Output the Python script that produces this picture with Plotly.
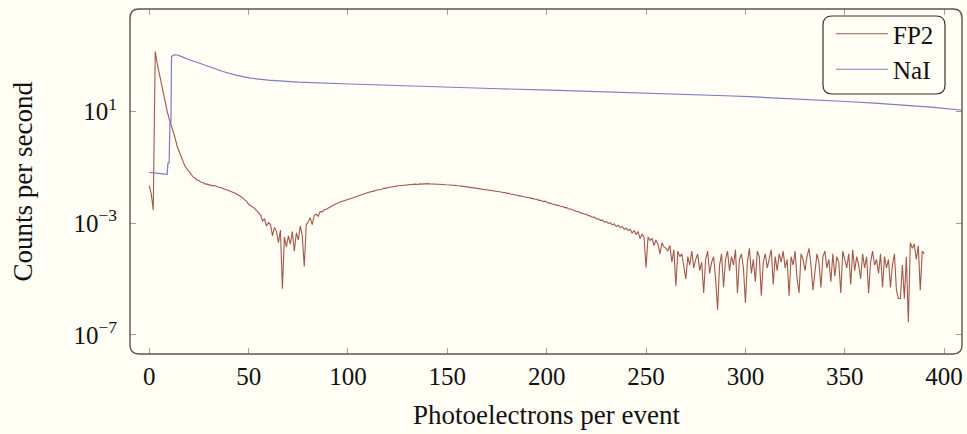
import plotly.graph_objects as go

# ---------------- data ----------------
# FP2 histogram: bin centres (photoelectrons) and log10(counts per second)
fp2_bins = list(range(0, 391))
fp2_log10 = [
    -1.65, -1.95, -2.52, 3.15, 2.72, 2.38, 1.98, 1.62, 1.31, 1.02,
    0.74, 0.52, 0.24, 0.06, -0.24, -0.43, -0.66, -0.79, -0.96, -1.06,
    -1.18, -1.25, -1.34, -1.38, -1.45, -1.47, -1.53, -1.54, -1.59, -1.60,
    -1.62, -1.63, -1.66, -1.65, -1.69, -1.71, -1.72, -1.76, -1.78, -1.80,
    -1.84, -1.85, -1.89, -1.92, -1.95, -2.00, -2.04, -2.10, -2.14, -2.22,
    -2.32, -2.36, -2.40, -2.47, -2.55, -2.62, -2.70, -2.92, -2.85, -3.10,
    -2.98, -3.05, -3.45, -3.15, -3.30, -3.70, -3.25, -5.35, -3.50, -3.85,
    -3.45, -3.75, -3.30, -4.00, -3.35, -3.60, -3.10, -3.45, -4.55, -3.05,
    -2.95, -2.80, -3.05, -2.72, -2.68, -2.75, -2.58, -2.60, -2.52, -2.50,
    -2.45, -2.42, -2.38, -2.34, -2.32, -2.28, -2.24, -2.22, -2.20, -2.17,
    -2.15, -2.13, -2.10, -2.08, -2.05, -2.03, -2.00, -1.98, -1.95, -1.93,
    -1.90, -1.89, -1.86, -1.85, -1.82, -1.81, -1.79, -1.78, -1.75, -1.75,
    -1.72, -1.72, -1.70, -1.69, -1.67, -1.67, -1.65, -1.65, -1.64, -1.63,
    -1.63, -1.62, -1.61, -1.61, -1.60, -1.61, -1.59, -1.60, -1.59, -1.59,
    -1.58, -1.59, -1.59, -1.60, -1.59, -1.61, -1.60, -1.61, -1.61, -1.62,
    -1.62, -1.63, -1.63, -1.65, -1.64, -1.66, -1.66, -1.68, -1.68, -1.69,
    -1.70, -1.71, -1.71, -1.73, -1.73, -1.75, -1.75, -1.77, -1.77, -1.79,
    -1.79, -1.81, -1.82, -1.83, -1.85, -1.85, -1.87, -1.88, -1.90, -1.90,
    -1.93, -1.93, -1.96, -1.96, -1.99, -1.99, -2.02, -2.02, -2.05, -2.05,
    -2.08, -2.08, -2.11, -2.11, -2.14, -2.14, -2.18, -2.18, -2.22, -2.21,
    -2.24, -2.28, -2.28, -2.32, -2.32, -2.36, -2.36, -2.40, -2.40, -2.44,
    -2.44, -2.49, -2.49, -2.53, -2.54, -2.58, -2.58, -2.63, -2.64, -2.68,
    -2.68, -2.73, -2.74, -2.79, -2.78, -2.85, -2.84, -2.90, -2.89, -2.96,
    -2.94, -3.01, -2.98, -3.06, -3.03, -3.12, -3.07, -3.16, -3.12, -3.22,
    -3.18, -3.26, -3.22, -3.35, -3.27, -3.40, -3.30, -3.55, -3.40, -3.50,
    -4.60, -3.50, -3.62, -3.55, -3.80, -3.60, -3.75, -4.10, -3.70, -3.85,
    -3.90, -4.00, -3.80, -4.40, -3.95, -5.25, -4.00, -4.20, -4.10, -4.50,
    -5.00, -4.20, -4.50, -4.00, -4.60, -4.30, -4.10, -4.70, -4.40, -5.50,
    -4.30, -4.00, -4.80, -4.40, -4.20, -5.00, -6.10, -4.50, -4.10, -5.30,
    -4.30, -4.00, -4.70, -4.20, -4.50, -3.95, -5.50, -4.30, -4.10, -4.60,
    -5.85, -4.40, -3.90, -4.80, -4.30, -5.10, -4.00, -4.20, -5.60, -4.40,
    -4.10, -4.60, -4.30, -3.95, -5.20, -4.20, -4.70, -4.10, -4.40, -4.00,
    -4.60, -4.30, -5.60, -4.20, -4.50, -4.00, -5.00, -5.50, -4.10, -4.30,
    -4.70, -4.20, -3.90, -4.50, -5.40, -4.80, -4.10, -4.40, -5.30, -4.20,
    -4.00, -4.60, -4.30, -5.10, -4.10, -4.90, -4.20, -4.40, -5.50, -4.00,
    -4.30, -4.60, -4.10, -5.20, -3.95, -4.70, -4.20, -4.50, -5.00, -4.10,
    -4.60, -4.20, -5.50, -4.40, -4.00, -4.50, -4.30, -4.80, -4.10, -5.30,
    -4.20, -4.60, -4.30, -5.30, -4.50, -4.10, -5.40, -5.70, -5.70, -4.50,
    -5.70, -4.20, -6.55, -3.70, -3.90, -3.75, -4.30, -3.80, -5.40, -4.00,
    -4.10,
]

# NaI spectrum: photoelectrons and log10(counts per second)
nai_bins = [0, 1, 2, 3, 4, 5, 6, 7, 8, 9, 9.4, 10, 10.4, 10.9, 11.2, 12, 13, 14,
            16, 18, 20, 24, 28, 32, 37, 44, 51, 60, 75, 101, 125, 151, 176,
            202, 227, 252, 277, 290, 302, 315, 328, 340, 353, 365, 378, 395, 409]
nai_log10 = [-1.18, -1.19, -1.19, -1.20, -1.21, -1.21, -1.22, -1.23, -1.24, -1.25,
             -0.84, -0.84, 0.60, 0.60, 2.97, 3.02, 3.04, 3.03,
             2.98, 2.92, 2.86, 2.77, 2.66, 2.56, 2.44, 2.30, 2.20, 2.13, 2.06,
             1.99, 1.93, 1.87, 1.82, 1.77, 1.72, 1.665, 1.605, 1.57, 1.535, 1.495,
             1.45, 1.405, 1.355, 1.305, 1.245, 1.15, 1.05]

series_names = ["FP2", "NaI"]
x_tick_values = [0, 50, 100, 150, 200, 250, 300, 350, 400]
y_tick_values = [1e-7, 1e-3, 1e1]
y_tick_labels = ["10<sup>−7</sup>", "10<sup>−3</sup>", "10<sup>1</sup>"]
x_title = "Photoelectrons per event"
y_title = "Counts per second"

# ---------------- style ----------------
BG = "#fffdf4"
FP2_COLOR = "#a3584a"
NAI_COLOR = "#7b7dbf"
FRAME = "#555555"
TICK = "#a0a0a0"
FONT = "Liberation Serif"

fp2_counts = [10 ** v for v in fp2_log10]
nai_counts = [10 ** v for v in nai_log10]

fig = go.Figure()
fig.add_trace(go.Scatter(x=fp2_bins, y=fp2_counts, mode="lines", name=series_names[0],
                         line=dict(color=FP2_COLOR, width=1.1)))
fig.add_trace(go.Scatter(x=nai_bins, y=nai_counts, mode="lines", name=series_names[1],
                         line=dict(color=NAI_COLOR, width=1.2)))

W, H = 967, 434
ml, mr, mt, mb = 130, 5, 9, 80
pw, ph = W - ml - mr, H - mt - mb


def rounded_rect(x0, y0, x1, y1, r):
    rx, ry = r / pw, r / ph
    return (f"M {x0+rx},{y0} L {x1-rx},{y0} Q {x1},{y0} {x1},{y0+ry} "
            f"L {x1},{y1-ry} Q {x1},{y1} {x1-rx},{y1} L {x0+rx},{y1} "
            f"Q {x0},{y1} {x0},{y1-ry} L {x0},{y0+ry} Q {x0},{y0} {x0+rx},{y0} Z")


# legend box in paper coordinates
lx0, lx1 = (823 - ml) / pw, (945 - ml) / pw
ly1, ly0 = 1 - (16 - mt) / ph, 1 - (94 - mt) / ph
leg_top = 1 - (11 - mt) / ph

fig.update_layout(
    width=W, height=H,
    margin=dict(l=ml, r=mr, t=mt, b=mb),
    paper_bgcolor=BG, plot_bgcolor=BG,
    font=dict(family=FONT, size=25, color="#111111"),
    showlegend=True,
    legend=dict(x=lx0 + 8 / pw, y=leg_top, xanchor="left", yanchor="top",
                bgcolor="rgba(0,0,0,0)", borderwidth=0,
                font=dict(family=FONT, size=25, color="#111111"),
                itemwidth=52, tracegroupgap=0),
    xaxis=dict(range=[-9.7, 409], tickvals=x_tick_values, ticks="inside", ticklen=6,
               tickcolor=TICK, tickwidth=1, showline=True, linecolor=BG, mirror="allticks",
               showgrid=False, zeroline=False, ticklabelstandoff=0,
               tickfont=dict(family=FONT, size=25)),
    yaxis=dict(type="log", range=[-7.69, 4.68], tickvals=y_tick_values, ticktext=y_tick_labels,
               ticks="inside", ticklen=6, tickcolor=TICK, tickwidth=1, showline=True,
               linecolor=BG, mirror="allticks", showgrid=False, zeroline=False,
               ticklabelstandoff=7, tickfont=dict(family=FONT, size=25)),
    shapes=[
        dict(type="path", xref="paper", yref="paper", path=rounded_rect(0, 0, 1, 1, 9),
             line=dict(color=FRAME, width=1.4), layer="above"),
        dict(type="path", xref="paper", yref="paper", path=rounded_rect(lx0, ly0, lx1, ly1, 9),
             line=dict(color="#333333", width=1.2), fillcolor="rgba(0,0,0,0)", layer="above"),
    ],
    annotations=[
        dict(text=x_title, xref="paper", yref="paper", x=0.5, y=0, xanchor="center",
             yanchor="middle", yshift=-61, showarrow=False, font=dict(family=FONT, size=27)),
        dict(text=y_title, xref="paper", yref="paper", x=0, y=0.5, xanchor="center",
             yanchor="middle", xshift=-108, textangle=-90, showarrow=False,
             font=dict(family=FONT, size=27)),
    ],
)

fig.write_html("out.html")
